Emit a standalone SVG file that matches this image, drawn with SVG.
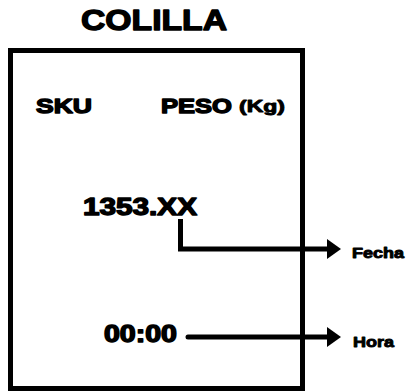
<svg xmlns="http://www.w3.org/2000/svg" width="409" height="392" viewBox="0 0 409 392">
<style>
text{font-family:"Liberation Sans",Arial,sans-serif;font-weight:bold;fill:#000;stroke:#000;stroke-width:1.4;stroke-linejoin:round;}
.sm{stroke-width:0.9;}
.ln{stroke:#000;stroke-width:5;fill:none;}
</style>
<defs>
<marker id="ah" markerUnits="userSpaceOnUse" markerWidth="14" markerHeight="20" refX="0" refY="10" orient="auto">
<path d="M0,0 L14,10 L0,20 Z" fill="#000"/>
</marker>
</defs>
<rect width="409" height="392" fill="#fff"/>
<g id="title"><text x="81" y="30" font-size="30" stroke-width="1.8" textLength="146" lengthAdjust="spacingAndGlyphs">COLILLA</text></g>
<g id="box">
<rect x="10.5" y="50.5" width="292" height="338" fill="none" stroke="#000" stroke-width="5"/>
<text x="36" y="113" font-size="21" textLength="56" lengthAdjust="spacingAndGlyphs">SKU</text>
<text x="161" y="113" font-size="21" textLength="71" lengthAdjust="spacingAndGlyphs">PESO</text>
<text x="239" y="112" font-size="16" class="sm" textLength="46" lengthAdjust="spacingAndGlyphs">(Kg)</text>
</g>
<g id="peso"><text x="83" y="215" font-size="24" textLength="114" lengthAdjust="spacingAndGlyphs">1353.XX</text></g>
<g id="hora"><text x="104" y="342" font-size="23" textLength="73" lengthAdjust="spacingAndGlyphs">00:00</text></g>
<g id="fecha-label"><text x="352" y="258" font-size="14" class="sm" textLength="52" lengthAdjust="spacingAndGlyphs">Fecha</text></g>
<g id="hora-label"><text x="353" y="347" font-size="15" class="sm" textLength="41" lengthAdjust="spacingAndGlyphs">Hora</text></g>
<g id="connectors">
<path class="ln" d="M180.5,219 V249 H327" marker-end="url(#ah)"/>
<path class="ln" d="M188,337 H327" stroke-linecap="round" marker-end="url(#ah)"/>
</g>
</svg>
